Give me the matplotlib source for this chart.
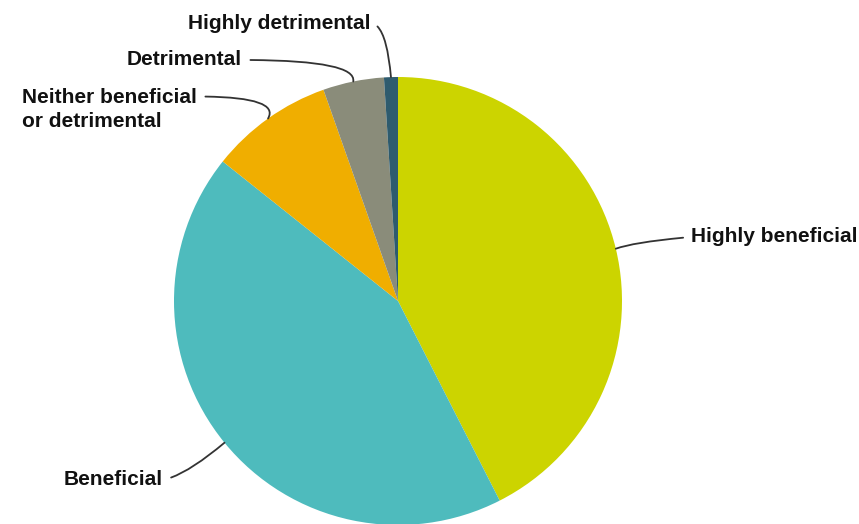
import numpy as np
import matplotlib
matplotlib.use("Agg")
import matplotlib.pyplot as plt

labels = ["Highly beneficial", "Beneficial", "Neither beneficial\nor detrimental",
          "Detrimental", "Highly detrimental"]
values = [42.5, 43.2, 8.9, 4.4, 1.0]
colors = ["#CCD400", "#4EBBBD", "#F0AE00", "#8A8C7A", "#2E5B6E"]

# label placement (data units, pie radius = 1) and leader line shapes
label_pos = [(1.31, 0.286), (-1.049, -0.798), (-0.897, 0.855), (-0.696, 1.076), (-0.125, 1.241)]
label_ha = ["left", "right", "right", "right", "right"]
rel_pos = [(0, 0.5), (1, 0.5), (1, 0.8), (1, 0.5), (1, 0.5)]
conn = ["angle3,angleA=5,angleB=20", "angle3,angleA=10,angleB=40",
        "angle3,angleA=0,angleB=60", "angle3,angleA=0,angleB=80",
        "angle3,angleA=0,angleB=95"]

fig = plt.figure(figsize=(8.59, 5.24), dpi=100)
cx, cy, r = 398, 301, 224
ax = fig.add_axes([(cx - r) / 859, (524 - cy - r) / 524, 2 * r / 859, 2 * r / 524])

wedges, _ = ax.pie(values, colors=colors, startangle=90, counterclock=False,
                   radius=1, wedgeprops=dict(linewidth=0))
ax.set_xlim(-1, 1)
ax.set_ylim(-1, 1)
ax.set_aspect("equal")
ax.axis("off")

for w, lab, pos, ha, rp, cs in zip(wedges, labels, label_pos, label_ha, rel_pos, conn):
    mid = np.deg2rad((w.theta1 + w.theta2) / 2)
    edge = (np.cos(mid), np.sin(mid))
    ax.annotate(lab, xy=edge, xytext=pos, ha=ha, va="center", multialignment="left",
                fontsize=15, fontweight="bold", family="Liberation Sans", color="#111111",
                linespacing=1.35, annotation_clip=False,
                arrowprops=dict(arrowstyle="-", color="#333333", lw=1.3,
                                connectionstyle=cs, relpos=rp, shrinkA=4, shrinkB=0))

fig.savefig("out.png", dpi=100)
